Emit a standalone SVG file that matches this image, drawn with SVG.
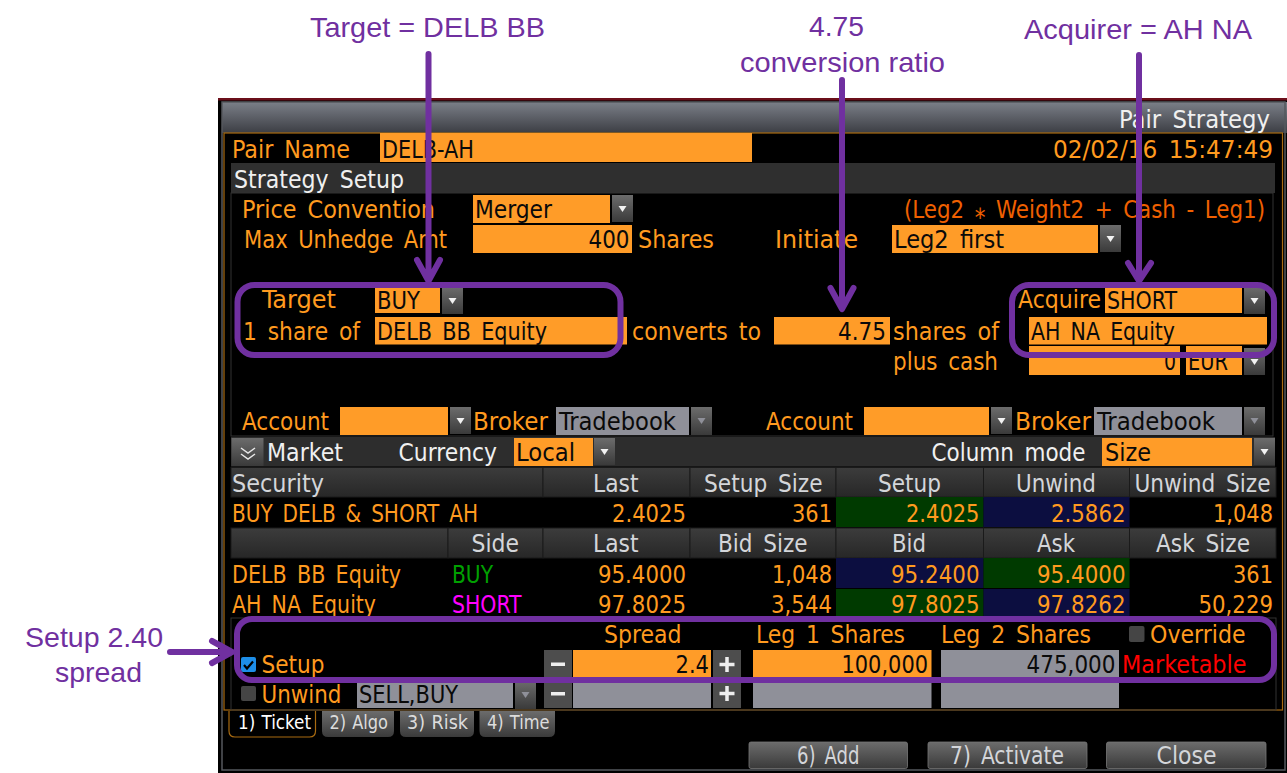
<svg xmlns="http://www.w3.org/2000/svg" width="1287" height="773" viewBox="0 0 1287 773">
<style>
text{font-family:"DejaVu Sans Condensed","DejaVu Sans",sans-serif;font-stretch:condensed;font-size:25px;word-spacing:4px}
.o{fill:#ff9a1f}.k{fill:#0a0a0a}.w{fill:#f0f0f0}.h{fill:#d4d6da}.g{fill:#00a000}.m{fill:#ff00ff}.r{fill:#ff0000}.f{fill:#f06000}
.of{fill:#ff9c28}.gf{fill:#8f9099}.dd{fill:url(#btn)}.hd{fill:url(#hdr);stroke:#1a1a1a;stroke-width:1}
.tab{fill:url(#btn)}.tt{font-size:20px;fill:#dcdcdc;word-spacing:1px}.tri{fill:#f2f2f2}.tri2{fill:#8f9099}
.c{font-family:"Liberation Sans",Arial,sans-serif;font-size:28px;fill:#7030a0;word-spacing:0}
.p{fill:none;stroke:#7030a0;stroke-width:6;stroke-linejoin:round;stroke-linecap:round}
</style>
<defs>
<linearGradient id="bar" x1="0" y1="0" x2="0" y2="1"><stop offset="0" stop-color="#7b7f88"/><stop offset="1" stop-color="#3c3e44"/></linearGradient>
<linearGradient id="btn" x1="0" y1="0" x2="0" y2="1"><stop offset="0" stop-color="#6c6c6c"/><stop offset="1" stop-color="#3a3a3a"/></linearGradient>
<linearGradient id="hdr" x1="0" y1="0" x2="0" y2="1"><stop offset="0" stop-color="#3c3c3c"/><stop offset="1" stop-color="#272727"/></linearGradient>
<g id="dn"><rect width="21" height="27" class="dd"/><path d="M6.500 11h8l-4 6z" class="tri"/></g>
<g id="dn2"><rect width="21" height="28" class="dd"/><path d="M6.500 11h8l-4 6z" class="tri2"/></g>
</defs>
<rect width="1287" height="773" fill="#fff"/>
<g id="window">
<rect x="218" y="98" width="1069" height="675" fill="#000"/>
<rect x="218" y="98" width="1069" height="2.500" fill="#6b0f1a"/>
<rect x="222" y="102" width="1065" height="31" fill="url(#bar)"/>
<rect x="222" y="102" width="1063" height="668" fill="none" stroke="#55585e" stroke-width="1.500"/>
<rect x="224" y="133" width="1058.500" height="577" fill="none" stroke="#a86a10" stroke-width="1.200"/>
<text x="1119" y="128" class="w" textLength="151" lengthAdjust="spacingAndGlyphs">Pair Strategy</text>
</g>
<g id="pair-name">
<text x="232" y="158" class="o" textLength="118" lengthAdjust="spacingAndGlyphs">Pair Name</text>
<rect x="380" y="133" width="372" height="29" class="of"/>
<text x="382" y="158" class="k" textLength="92" lengthAdjust="spacingAndGlyphs">DELB-AH</text>
<text x="1053" y="158" class="o" textLength="220" lengthAdjust="spacingAndGlyphs">02/02/16 15:47:49</text>
</g>
<g id="strategy-setup">
<rect x="231" y="163" width="1044" height="30" fill="#2f2f2f"/>
<rect x="231" y="193" width="1042" height="243" fill="none" stroke="#333" stroke-width="1"/>
<text x="234" y="188" class="w" textLength="170" lengthAdjust="spacingAndGlyphs">Strategy Setup</text>
<text x="242" y="218" class="o" textLength="193" lengthAdjust="spacingAndGlyphs">Price Convention</text>
<rect x="473" y="195" width="137" height="28" class="of"/>
<text x="475" y="218" class="k" textLength="77" lengthAdjust="spacingAndGlyphs">Merger</text>
<use href="#dn" x="612" y="195"/>
<text x="904" y="218" class="f" textLength="361" lengthAdjust="spacingAndGlyphs">(Leg2 ⁎ Weight2 + Cash - Leg1)</text>
<text x="244" y="248" class="o" textLength="203" lengthAdjust="spacingAndGlyphs">Max Unhedge Amt</text>
<rect x="473" y="225" width="159" height="28" class="of"/>
<text x="588.500" y="248" class="k" textLength="41" lengthAdjust="spacingAndGlyphs">400</text>
<text x="638" y="248" class="o" textLength="76" lengthAdjust="spacingAndGlyphs">Shares</text>
<text x="775" y="248" class="o" textLength="83" lengthAdjust="spacingAndGlyphs">Initiate</text>
<rect x="892" y="225" width="206" height="28" class="of"/>
<text x="894" y="248" class="k" textLength="110" lengthAdjust="spacingAndGlyphs">Leg2 first</text>
<use href="#dn" x="1100" y="225"/>
</g>
<g id="target-leg">
<text x="262" y="308" class="o" textLength="74" lengthAdjust="spacingAndGlyphs">Target</text>
<rect x="375" y="288" width="65" height="25" class="of"/>
<text x="377" y="309" class="k" textLength="43" lengthAdjust="spacingAndGlyphs">BUY</text>
<use href="#dn" x="442" y="287"/>
<text x="243" y="340" class="o" textLength="117" lengthAdjust="spacingAndGlyphs">1 share of</text>
<rect x="375" y="317" width="252" height="27.500" class="of"/>
<text x="377" y="340" class="k" textLength="170" lengthAdjust="spacingAndGlyphs">DELB BB Equity</text>
<text x="632" y="340" class="o" textLength="129" lengthAdjust="spacingAndGlyphs">converts to</text>
</g>
<g id="ratio">
<rect x="774" y="317" width="116" height="27.500" class="of"/>
<text x="838" y="340" class="k" textLength="48" lengthAdjust="spacingAndGlyphs">4.75</text>
<text x="893" y="340" class="o" textLength="106" lengthAdjust="spacingAndGlyphs">shares of</text>
<text x="893" y="370" class="o" textLength="105" lengthAdjust="spacingAndGlyphs">plus cash</text>
</g>
<g id="acquirer-leg">
<text x="1018" y="308" class="o" textLength="83" lengthAdjust="spacingAndGlyphs">Acquire</text>
<rect x="1105" y="288" width="137" height="25" class="of"/>
<text x="1107" y="309" class="k" textLength="70" lengthAdjust="spacingAndGlyphs">SHORT</text>
<use href="#dn" x="1244" y="287"/>
<rect x="1029" y="317" width="238" height="27.500" class="of"/>
<text x="1031" y="340" class="k" textLength="144" lengthAdjust="spacingAndGlyphs">AH NA Equity</text>
<rect x="1029" y="346" width="151" height="29" class="of"/>
<text x="1164" y="370" class="k" textLength="12" lengthAdjust="spacingAndGlyphs">0</text>
<rect x="1186" y="346" width="56" height="29" class="of"/>
<text x="1188" y="370" class="k" textLength="40" lengthAdjust="spacingAndGlyphs">EUR</text>
<use href="#dn" x="1244" y="348"/>
</g>
<g id="accounts">
<text x="242" y="430" class="o" textLength="87" lengthAdjust="spacingAndGlyphs">Account</text>
<rect x="340" y="407" width="108" height="28" class="of"/>
<use href="#dn" x="450" y="407"/>
<text x="473" y="430" class="o" textLength="75" lengthAdjust="spacingAndGlyphs">Broker</text>
<rect x="556" y="407" width="133" height="28" class="gf"/>
<text x="559" y="430" class="k" textLength="117" lengthAdjust="spacingAndGlyphs">Tradebook</text>
<use href="#dn2" x="691" y="407"/>
<text x="766" y="430" class="o" textLength="87" lengthAdjust="spacingAndGlyphs">Account</text>
<rect x="864" y="407" width="125" height="28" class="of"/>
<use href="#dn" x="991" y="407"/>
<text x="1015" y="430" class="o" textLength="76" lengthAdjust="spacingAndGlyphs">Broker</text>
<rect x="1094" y="407" width="148" height="28" class="gf"/>
<text x="1097" y="430" class="k" textLength="118" lengthAdjust="spacingAndGlyphs">Tradebook</text>
<use href="#dn2" x="1244" y="407"/>
</g>
<g id="market-bar">
<rect x="231" y="437" width="1044" height="29.500" fill="#2d2d2d"/>
<rect x="231.500" y="438" width="32" height="28" class="dd"/>
<path d="M241 448l7 5 7-5M241 454l7 5 7-5" fill="none" stroke="#e8e8e8" stroke-width="1.500"/>
<text x="267" y="461" class="w" textLength="76" lengthAdjust="spacingAndGlyphs">Market</text>
<text x="398.500" y="461" class="w" textLength="98.500" lengthAdjust="spacingAndGlyphs">Currency</text>
<rect x="514" y="438" width="79" height="28" class="of"/>
<text x="516" y="461" class="k" textLength="59" lengthAdjust="spacingAndGlyphs">Local</text>
<use href="#dn" x="594" y="438"/>
<text x="931.500" y="461" class="w" textLength="154" lengthAdjust="spacingAndGlyphs">Column mode</text>
<rect x="1102" y="438" width="150" height="28" class="of"/>
<text x="1105" y="461" class="k" textLength="46" lengthAdjust="spacingAndGlyphs">Size</text>
<use href="#dn" x="1254" y="438"/>
</g>
<g id="pair-table">
<rect x="231" y="467.500" width="312" height="29.500" class="hd"/><rect x="543" y="467.500" width="147" height="29.500" class="hd"/><rect x="690" y="467.500" width="146" height="29.500" class="hd"/><rect x="836" y="467.500" width="147.500" height="29.500" class="hd"/><rect x="983.500" y="467.500" width="146" height="29.500" class="hd"/><rect x="1129.500" y="467.500" width="146.500" height="29.500" class="hd"/>
<rect x="836" y="497" width="147.500" height="30" fill="#003a00"/><rect x="983.500" y="497" width="146" height="30" fill="#0c0e40"/>
<text x="232" y="491.500" class="h" textLength="92" lengthAdjust="spacingAndGlyphs">Security</text>
<text x="593" y="491.500" class="h" textLength="45.500" lengthAdjust="spacingAndGlyphs">Last</text>
<text x="704" y="491.500" class="h" textLength="118.500" lengthAdjust="spacingAndGlyphs">Setup Size</text>
<text x="878" y="491.500" class="h" textLength="63" lengthAdjust="spacingAndGlyphs">Setup</text>
<text x="1016" y="491.500" class="h" textLength="80" lengthAdjust="spacingAndGlyphs">Unwind</text>
<text x="1134.500" y="491.500" class="h" textLength="136" lengthAdjust="spacingAndGlyphs">Unwind Size</text>
<text x="232" y="521.500" class="o" textLength="246" lengthAdjust="spacingAndGlyphs">BUY DELB &amp; SHORT AH</text>
<text x="612" y="521.500" class="o" textLength="74" lengthAdjust="spacingAndGlyphs">2.4025</text>
<text x="792" y="521.500" class="o" textLength="40" lengthAdjust="spacingAndGlyphs">361</text>
<text x="906" y="521.500" class="o" textLength="73.500" lengthAdjust="spacingAndGlyphs">2.4025</text>
<text x="1051" y="521.500" class="o" textLength="74.500" lengthAdjust="spacingAndGlyphs">2.5862</text>
<text x="1213" y="521.500" class="o" textLength="60" lengthAdjust="spacingAndGlyphs">1,048</text>
</g>
<g id="legs-table">
<rect x="231" y="528" width="217" height="30" class="hd"/><rect x="448" y="528" width="95" height="30" class="hd"/><rect x="543" y="528" width="147" height="30" class="hd"/><rect x="690" y="528" width="146" height="30" class="hd"/><rect x="836" y="528" width="147.500" height="30" class="hd"/><rect x="983.500" y="528" width="146" height="30" class="hd"/><rect x="1129.500" y="528" width="146.500" height="30" class="hd"/>
<rect x="836" y="558" width="147.500" height="30" fill="#0c0e40"/><rect x="983.500" y="558" width="146" height="30" fill="#003a00"/>
<rect x="836" y="589" width="147.500" height="29" fill="#003a00"/><rect x="983.500" y="589" width="146" height="29" fill="#0c0e40"/>
<text x="471.500" y="552" class="h" textLength="47.500" lengthAdjust="spacingAndGlyphs">Side</text>
<text x="593" y="552" class="h" textLength="45.500" lengthAdjust="spacingAndGlyphs">Last</text>
<text x="718" y="552" class="h" textLength="89.500" lengthAdjust="spacingAndGlyphs">Bid Size</text>
<text x="892" y="552" class="h" textLength="34" lengthAdjust="spacingAndGlyphs">Bid</text>
<text x="1037" y="552" class="h" textLength="38" lengthAdjust="spacingAndGlyphs">Ask</text>
<text x="1156" y="552" class="h" textLength="94" lengthAdjust="spacingAndGlyphs">Ask Size</text>
<text x="232" y="583" class="o" textLength="169" lengthAdjust="spacingAndGlyphs">DELB BB Equity</text>
<text x="452" y="583" class="g" textLength="41" lengthAdjust="spacingAndGlyphs">BUY</text>
<text x="598" y="583" class="o" textLength="88" lengthAdjust="spacingAndGlyphs">95.4000</text>
<text x="772" y="583" class="o" textLength="60" lengthAdjust="spacingAndGlyphs">1,048</text>
<text x="891" y="583" class="o" textLength="88.500" lengthAdjust="spacingAndGlyphs">95.2400</text>
<text x="1037" y="583" class="o" textLength="88.500" lengthAdjust="spacingAndGlyphs">95.4000</text>
<text x="1233" y="583" class="o" textLength="40" lengthAdjust="spacingAndGlyphs">361</text>
<text x="232" y="613" class="o" textLength="144" lengthAdjust="spacingAndGlyphs">AH NA Equity</text>
<text x="452" y="613" class="m" textLength="69.500" lengthAdjust="spacingAndGlyphs">SHORT</text>
<text x="598" y="613" class="o" textLength="88" lengthAdjust="spacingAndGlyphs">97.8025</text>
<text x="771" y="613" class="o" textLength="61" lengthAdjust="spacingAndGlyphs">3,544</text>
<text x="891" y="613" class="o" textLength="88.500" lengthAdjust="spacingAndGlyphs">97.8025</text>
<text x="1037" y="613" class="o" textLength="88.500" lengthAdjust="spacingAndGlyphs">97.8262</text>
<text x="1198.500" y="613" class="o" textLength="74.500" lengthAdjust="spacingAndGlyphs">50,229</text>
</g>
<g id="order-entry">
<rect x="231" y="618" width="1045" height="92" fill="none" stroke="#333" stroke-width="1"/>
<text x="604" y="643" class="o" textLength="77.500" lengthAdjust="spacingAndGlyphs">Spread</text>
<text x="756" y="643" class="o" textLength="149" lengthAdjust="spacingAndGlyphs">Leg 1 Shares</text>
<text x="941" y="643" class="o" textLength="150" lengthAdjust="spacingAndGlyphs">Leg 2 Shares</text>
<rect x="1129" y="626" width="15.500" height="16" rx="2" fill="#454545"/>
<text x="1150" y="643" class="o" textLength="95.500" lengthAdjust="spacingAndGlyphs">Override</text>
<rect x="241" y="657" width="15" height="15" rx="2" fill="#1d8ee8"/>
<path d="M244 665l3 3.500 6-7" fill="none" stroke="#000" stroke-width="2.200"/>
<text x="261.500" y="673" class="o" textLength="63" lengthAdjust="spacingAndGlyphs">Setup</text>
<rect x="544" y="650" width="28" height="29" fill="#4d4d4d"/><rect x="551" y="662.500" width="14" height="3.500" fill="#eee"/>
<rect x="573" y="650" width="138" height="29" class="of"/>
<text x="675.500" y="673" class="k" textLength="33.500" lengthAdjust="spacingAndGlyphs">2.4</text>
<rect x="713" y="650" width="28" height="29" fill="#4d4d4d"/><path d="M727 657v15M719.500 664.500h15" stroke="#eee" stroke-width="3.500"/>
<rect x="753" y="650" width="178.500" height="29" class="of"/>
<text x="841.500" y="673" class="k" textLength="86.500" lengthAdjust="spacingAndGlyphs">100,000</text>
<rect x="941" y="650" width="178" height="29" class="gf"/>
<text x="1026.500" y="673" class="k" textLength="89" lengthAdjust="spacingAndGlyphs">475,000</text>
<text x="1122" y="673" class="r" textLength="124.500" lengthAdjust="spacingAndGlyphs">Marketable</text>
<rect x="241" y="686" width="15" height="15" rx="2" fill="#454545"/>
<text x="261.500" y="703" class="o" textLength="80" lengthAdjust="spacingAndGlyphs">Unwind</text>
<rect x="357" y="681" width="156" height="27" class="gf"/>
<text x="359" y="703" class="k" textLength="99" lengthAdjust="spacingAndGlyphs">SELL,BUY</text>
<use href="#dn2" x="515" y="681"/>
<rect x="544" y="681" width="28" height="27" fill="#4d4d4d"/><rect x="551" y="692" width="14" height="3.500" fill="#eee"/>
<rect x="573" y="681" width="138" height="27" class="gf"/>
<rect x="713" y="681" width="28" height="27" fill="#4d4d4d"/><path d="M727 686v15M719.500 693.500h15" stroke="#eee" stroke-width="3.500"/>
<rect x="753" y="681" width="178.500" height="27" class="gf"/>
<rect x="941" y="681" width="178" height="27" class="gf"/>
</g>
<g id="tabs">
<path d="M229 711v20q0 6 6 6h74.500q6 0 6-6v-20" fill="#000" stroke="#a86a10" stroke-width="1.200"/>
<text x="238" y="729" class="tt" style="fill:#fff" textLength="73" lengthAdjust="spacingAndGlyphs">1) Ticket</text>
<path d="M322 711h72v20q0 6-6 6h-60q-6 0-6-6z" class="tab"/>
<text x="329.500" y="729" class="tt" textLength="58.500" lengthAdjust="spacingAndGlyphs">2) Algo</text>
<path d="M400 711h74v20q0 6-6 6h-62q-6 0-6-6z" class="tab"/>
<text x="407" y="729" class="tt" textLength="61" lengthAdjust="spacingAndGlyphs">3) Risk</text>
<path d="M479.500 711h75.500v20q0 6-6 6h-63.500q-6 0-6-6z" class="tab"/>
<text x="487" y="729" class="tt" textLength="62.500" lengthAdjust="spacingAndGlyphs">4) Time</text>
</g>
<g id="buttons">
<rect x="749" y="742" width="158.500" height="26.500" rx="2" class="tab" stroke="#777" stroke-width=".8"/>
<text x="797" y="764" class="h" textLength="62.500" lengthAdjust="spacingAndGlyphs">6) Add</text>
<rect x="928" y="742" width="159" height="26.500" rx="2" class="tab" stroke="#777" stroke-width=".8"/>
<text x="950" y="764" class="h" textLength="114" lengthAdjust="spacingAndGlyphs">7) Activate</text>
<rect x="1106.500" y="742" width="159.500" height="26.500" rx="2" class="tab" stroke="#777" stroke-width=".8"/>
<text x="1156.500" y="764" class="h" textLength="60" lengthAdjust="spacingAndGlyphs">Close</text>
</g>
<g id="callout-target"><text x="310" y="37" class="c" textLength="235" lengthAdjust="spacingAndGlyphs">Target = DELB BB</text></g>
<g id="callout-ratio"><text x="809" y="36" class="c" textLength="55" lengthAdjust="spacingAndGlyphs">4.75</text><text x="740" y="72" class="c" textLength="205" lengthAdjust="spacingAndGlyphs">conversion ratio</text></g>
<g id="callout-acquirer"><text x="1024" y="39" class="c" textLength="228" lengthAdjust="spacingAndGlyphs">Acquirer = AH NA</text></g>
<g id="callout-setup"><text x="25" y="647" class="c" textLength="138" lengthAdjust="spacingAndGlyphs">Setup 2.40</text><text x="55" y="682" class="c" textLength="87" lengthAdjust="spacingAndGlyphs">spread</text></g>
<g id="highlights">
<rect x="237.500" y="285" width="383" height="70" rx="17" class="p"/>
<rect x="1012" y="285" width="262" height="70" rx="17" class="p"/>
<rect x="237" y="619" width="1037" height="61" rx="15" class="p"/>
</g>
<g id="connectors">
<path d="M428.500 54V281M417 260l11.500 21 11.500-21" class="p"/>
<path d="M842 80V308M830.500 288l11.500 21 11.500-21" class="p"/>
<path d="M1139 55V281M1128 263l11 18 12-18" class="p"/>
<path d="M170 652H231M212 641l20 11-20 11" class="p"/>
</g>
</svg>
